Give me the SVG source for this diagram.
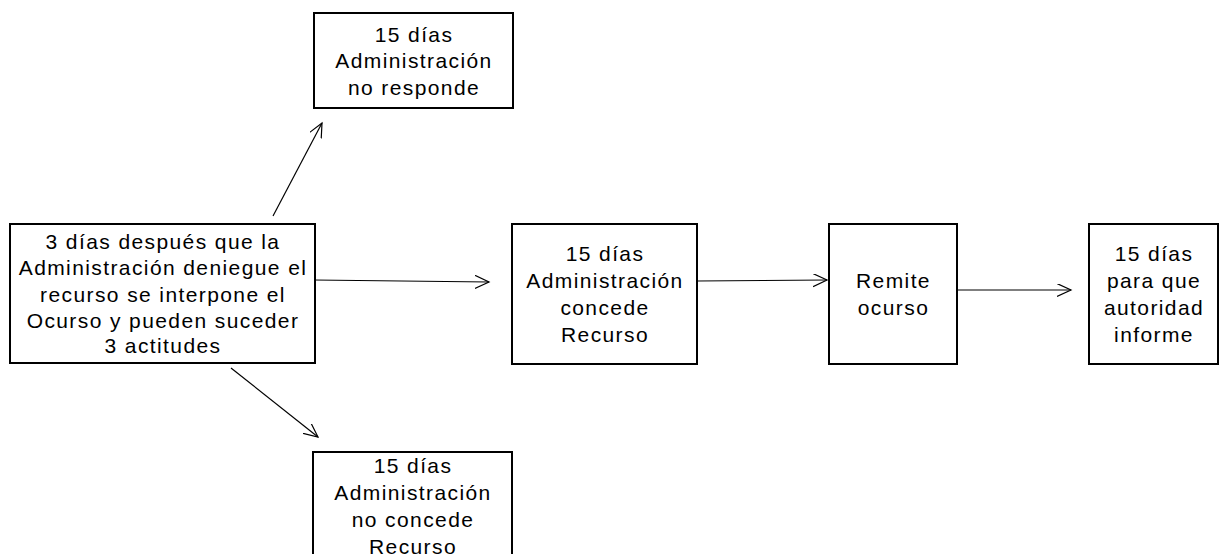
<svg xmlns="http://www.w3.org/2000/svg" width="1219" height="554" viewBox="0 0 1219 554">
<style>
.box{fill:#fff;stroke:#000;stroke-width:2}
.t{font-family:"Liberation Sans",Arial,sans-serif;font-size:21px;letter-spacing:1.4px;text-anchor:middle;fill:#000}
.c{fill:none;stroke:#000;stroke-width:1.2}
</style>
<defs>
<marker id="ah" markerUnits="userSpaceOnUse" markerWidth="16" markerHeight="14" refX="14" refY="6.5" orient="auto">
<path d="M0,0 L14,6.5 L0,13" fill="none" stroke="#000" stroke-width="1.2"/>
</marker>
</defs>
<rect width="1219" height="554" fill="#fff"/>
<g id="connectors">
<line class="c" x1="314" y1="280" x2="489" y2="282" marker-end="url(#ah)"/>
<line class="c" x1="697" y1="281" x2="827" y2="280" marker-end="url(#ah)"/>
<line class="c" x1="957" y1="290" x2="1071" y2="290" marker-end="url(#ah)"/>
<line class="c" x1="273" y1="216" x2="322" y2="123" marker-end="url(#ah)"/>
<line class="c" x1="231" y1="368" x2="318" y2="437" marker-end="url(#ah)"/>
</g>
<g id="node-start">
<rect class="box" x="10" y="224" width="305" height="139"/>
<text class="t" x="163" y="249">3 días después que la</text>
<text class="t" x="163" y="275">Administración deniegue el</text>
<text class="t" x="163" y="302">recurso se interpone el</text>
<text class="t" x="163" y="328">Ocurso y pueden suceder</text>
<text class="t" x="163" y="353">3 actitudes</text>
</g>
<g id="node-no-responde">
<rect class="box" x="314" y="13" width="199" height="95"/>
<text class="t" x="414" y="42">15 días</text>
<text class="t" x="414" y="68">Administración</text>
<text class="t" x="414" y="95">no responde</text>
</g>
<g id="node-no-concede">
<rect class="box" x="313" y="452" width="199" height="120"/>
<text class="t" x="413" y="473">15 días</text>
<text class="t" x="413" y="500">Administración</text>
<text class="t" x="413" y="527">no concede</text>
<text class="t" x="413" y="554">Recurso</text>
</g>
<g id="node-concede">
<rect class="box" x="512" y="224" width="185" height="140"/>
<text class="t" x="605" y="261">15 días</text>
<text class="t" x="605" y="288">Administración</text>
<text class="t" x="605" y="315">concede</text>
<text class="t" x="605" y="342">Recurso</text>
</g>
<g id="node-remite">
<rect class="box" x="829" y="224" width="128" height="140"/>
<text class="t" x="893.5" y="288">Remite</text>
<text class="t" x="893.5" y="315">ocurso</text>
</g>
<g id="node-informe">
<rect class="box" x="1089" y="224" width="129" height="140"/>
<text class="t" x="1154" y="261">15 días</text>
<text class="t" x="1154" y="288">para que</text>
<text class="t" x="1154" y="315">autoridad</text>
<text class="t" x="1154" y="342">informe</text>
</g>
</svg>
